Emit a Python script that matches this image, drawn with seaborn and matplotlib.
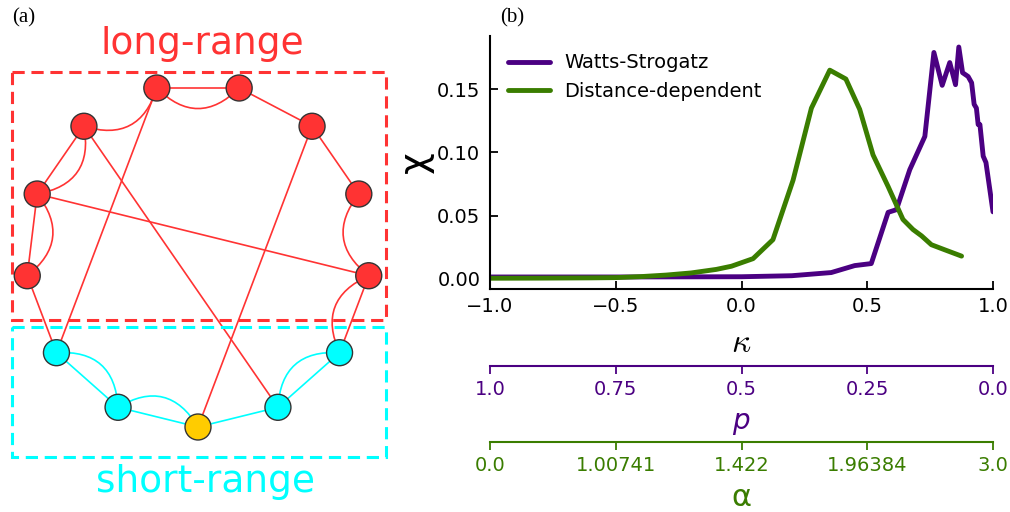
import numpy as np
import matplotlib
matplotlib.use("Agg")
import matplotlib.pyplot as plt
import seaborn as sns
from matplotlib.path import Path
from matplotlib.patches import PathPatch, Rectangle

# ---------------- data ----------------
ws_kappa = [-1.0, -0.5, 0.0, 0.2, 0.357, 0.45, 0.516, 0.583, 0.616, 0.669, 0.729,
            0.765, 0.798, 0.828, 0.851, 0.864, 0.879, 0.901, 0.915, 0.925, 0.934,
            0.941, 0.948, 0.961, 0.972, 1.0]
ws_chi = [0.0015, 0.0015, 0.0017, 0.0025, 0.005, 0.0105, 0.0121, 0.0526, 0.0547,
          0.0863, 0.1126, 0.179, 0.153, 0.171, 0.1535, 0.1833, 0.163, 0.160, 0.155,
          0.138, 0.135, 0.122, 0.122, 0.097, 0.092, 0.053]

dd_kappa = [-1.0, -0.8, -0.6, -0.5, -0.4, -0.3, -0.2, -0.1, -0.04, 0.046, 0.125,
            0.205, 0.278, 0.351, 0.415, 0.47, 0.523, 0.583, 0.642, 0.682, 0.716,
            0.755, 0.808, 0.875]
dd_chi = [0.0005, 0.0006, 0.0008, 0.001, 0.0018, 0.003, 0.0047, 0.0075, 0.010,
          0.016, 0.031, 0.078, 0.135, 0.165, 0.158, 0.134, 0.098, 0.073, 0.047,
          0.039, 0.034, 0.027, 0.023, 0.018]

series_names = ["Watts-Strogatz", "Distance-dependent"]
kappa_ticks = [-1.0, -0.5, 0.0, 0.5, 1.0]
chi_ticks = [0.00, 0.05, 0.10, 0.15]
p_ticklabels = ["1.0", "0.75", "0.5", "0.25", "0.0"]
alpha_ticklabels = ["0.0", "1.00741", "1.422", "1.96384", "3.0"]

# network sketch (panel a)
n_nodes = 13
node_kind = ["center", "short", "short", "long", "long", "long", "long",
             "long", "long", "long", "long", "short", "short"]
straight_edges = [(0, 1), (1, 2), (0, 12), (12, 11), (2, 3), (3, 4), (4, 5),
                  (6, 7), (7, 8), (8, 9), (11, 10), (2, 6), (12, 5), (0, 8), (4, 10)]
curved_edges = [(1, 2), (0, 1), (12, 11), (3, 4), (4, 5), (5, 6), (6, 7),
                (9, 10), (10, 11)]

# ---------------- style ----------------
PURPLE = "#4b0082"
GREEN = "#3a7d00"
RED = "#ff3333"
CYAN = "#00ffff"
YELLOW = "#ffcc00"
kind_color = {"center": YELLOW, "short": CYAN, "long": RED}

sns.set_theme(style="ticks")
plt.rcParams["font.family"] = ["DejaVu Sans"]
plt.rcParams["axes.linewidth"] = 1.5
plt.rcParams["text.color"] = "black"

W, H = 1010, 512
fig = plt.figure(figsize=(W / 100, H / 100), dpi=100)

# ---------------- panel (a) ----------------
axn = fig.add_axes([0, 0, 400 / W, 1])
axn.set_xlim(0, 400)
axn.set_ylim(512, 0)
axn.axis("off")

cx, cy, R = 198.0, 255.0, 172.0
theta = np.arange(n_nodes) * 2 * np.pi / n_nodes
nx = cx - R * np.sin(theta)
ny = cy + R * np.cos(theta)
short_set = {i for i, k in enumerate(node_kind) if k != "long"}


def edge_color(a, b):
    return CYAN if (a in short_set and b in short_set) else RED


for a, b in straight_edges:
    axn.plot([nx[a], nx[b]], [ny[a], ny[b]], color=edge_color(a, b), lw=1.2, zorder=1)

for a, b in curved_edges:
    p0 = np.array([nx[a], ny[a]])
    p1 = np.array([nx[b], ny[b]])
    mid = (p0 + p1) / 2
    d = np.linalg.norm(p1 - p0)
    nrm = np.array([-(p1 - p0)[1], (p1 - p0)[0]]) / d
    if np.dot(nrm, np.array([cx, cy]) - mid) < 0:
        nrm = -nrm
    ctrl = mid + 0.5 * d * nrm
    path = Path([p0, ctrl, p1], [Path.MOVETO, Path.CURVE3, Path.CURVE3])
    axn.add_patch(PathPatch(path, fill=False, ec=edge_color(a, b), lw=1.2, zorder=1))

axn.scatter(nx, ny, s=350, c=[kind_color[k] for k in node_kind],
            edgecolors="#333333", linewidths=1.0, zorder=3)

axn.add_patch(Rectangle((12, 72), 374, 248, fill=False, ec=RED, lw=2.2,
                        ls=(0, (4, 2.2)), zorder=2))
axn.add_patch(Rectangle((12, 327), 374, 130, fill=False, ec=CYAN, lw=2.2,
                        ls=(0, (4, 2.2)), zorder=2))
axn.text(202, 44, "long-range", color=RED, fontsize=27, ha="center", va="center")
axn.text(206, 482, "short-range", color=CYAN, fontsize=27, ha="center", va="center")

fig.text(12 / W, 1 - 18 / H, "(a)", family="Liberation Serif", fontsize=15,
         ha="left", va="center")
fig.text(500 / W, 1 - 18 / H, "(b)", family="Liberation Serif", fontsize=15,
         ha="left", va="center")

# ---------------- panel (b) ----------------
L, Rr, T, B = 490, 993, 36, 289
ax = fig.add_axes([L / W, 1 - B / H, (Rr - L) / W, (B - T) / H])
sns.lineplot(x=ws_kappa, y=ws_chi, color=PURPLE, lw=3.5, sort=False,
             label=series_names[0], ax=ax)
sns.lineplot(x=dd_kappa, y=dd_chi, color=GREEN, lw=3.5, sort=False,
             label=series_names[1], ax=ax)
ax.set_xlim(-1, 1)
ax.set_ylim(-0.008, 0.192)
ax.set_xticks(kappa_ticks)
ax.set_yticks(chi_ticks)
ax.set_yticklabels([f"{v:.2f}" for v in chi_ticks])
ax.set_xticklabels([f"{v:.1f}".replace("-", "\u2212") for v in kappa_ticks])
for s in ["top", "right"]:
    ax.spines[s].set_visible(False)
ax.spines["left"].set_color("black")
ax.spines["bottom"].set_color("black")
ax.tick_params(direction="in", length=6, width=1.3, labelsize=14, color="black",
               labelcolor="black")
ax.tick_params(axis="y", pad=7)
ax.tick_params(axis="x", pad=6)
ax.set_xlabel("")
ax.set_ylabel("")
ax.legend(frameon=False, fontsize=14, loc="upper left", handlelength=2.2,
          handletextpad=0.7, labelcolor="black")

fig.text(416 / W, 1 - 162 / H, "\u03c7", fontsize=27, rotation=90,
         ha="center", va="center", color="black")
fig.text(741 / W, 1 - 343 / H, r"$\kappa$", fontsize=24, ha="center",
         va="center", math_fontfamily="cm", color="black")

# secondary axes p and alpha
for ypix, labels, color, lab, lab_y, lab_kw in [
    (366, p_ticklabels, PURPLE, r"$p$", 423, dict(fontsize=20)),
    (442, alpha_ticklabels, GREEN, "\u03b1", 497, dict(fontsize=22)),
]:
    a2 = fig.add_axes([L / W, 1 - ypix / H, (Rr - L) / W, 1e-4])
    a2.set_facecolor("none")
    for s in ["top", "left", "right"]:
        a2.spines[s].set_visible(False)
    a2.spines["bottom"].set_color(color)
    a2.spines["bottom"].set_linewidth(1.5)
    a2.set_yticks([])
    a2.set_xlim(-1, 1)
    a2.set_xticks(kappa_ticks)
    a2.set_xticklabels(labels)
    a2.tick_params(axis="x", direction="out", length=6, width=1.3, colors=color,
                   labelsize=14, pad=4)
    fig.text(741 / W, 1 - lab_y / H, lab, color=color, ha="center", va="center",
             **lab_kw)

fig.savefig("out.png", dpi=100)
